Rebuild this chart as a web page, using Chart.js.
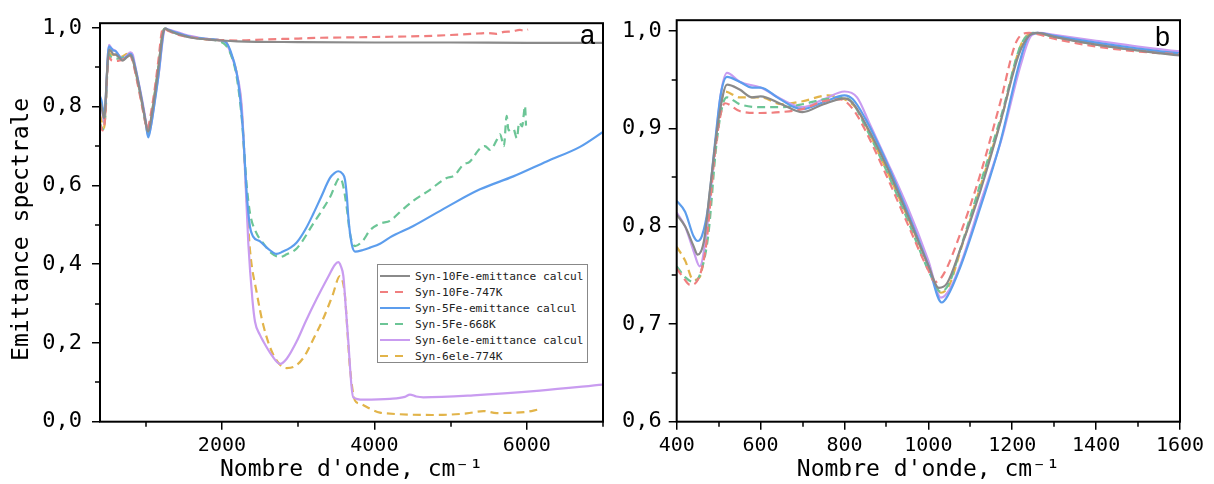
<!DOCTYPE html>
<html>
<head>
<meta charset="utf-8">
<script src="https://cdn.jsdelivr.net/npm/chart.js@4.4.1/dist/chart.umd.min.js"></script>
<style>
  html, body { margin: 0; padding: 0; background: #fff; }
  #wrap { position: relative; width: 1214px; height: 484px; overflow: hidden; }
  .panel { position: absolute; top: 0; height: 484px; }
  #boxA { left: 0; width: 610px; }
  #boxB { left: 610px; width: 604px; }
  .tag { position: absolute; font: 27px 'Liberation Sans', Arial, sans-serif; line-height: 27px; color: #000; }
  #legend {
    position: absolute; left: 377px; top: 264px; width: 211px; height: 99px;
    border: 1px solid #888; background: #fff; box-sizing: border-box;
    font: 11.2px 'DejaVu Sans Mono', monospace; color: #222; padding-top: 3px;
    white-space: nowrap;
  }
  #legend .row { display: flex; align-items: center; height: 16px; }
  #legend svg { margin-left: 2px; margin-right: 5px; flex: none; }
</style>
</head>
<body>
<div id="wrap">
  <div class="panel" id="boxA"><canvas id="chartA"></canvas></div>
  <div class="panel" id="boxB"><canvas id="chartB"></canvas></div>
  <div id="legend"></div>
  <div class="tag" style="left:580px; top:22px;">a</div>
  <div class="tag" style="left:1155px; top:24px;">b</div>
</div>
<script>
// Series names and styles
const seriesNames = [
  'Syn-10Fe-emittance calcul',
  'Syn-10Fe-747K',
  'Syn-5Fe-emittance calcul',
  'Syn-5Fe-668K',
  'Syn-6ele-emittance calcul',
  'Syn-6ele-774K'
];
const seriesColors = ['#8a8a8a', '#f07f7f', '#5c9ded', '#6cc596', '#c99cf0', '#e2b44a'];
const seriesDashed = [false, true, false, true, false, true];

// Data: [wavenumber cm-1, emittance]
const syn10FeCalc = [
  [400,0.812],[420,0.80],[440,0.78],[450,0.771],[465,0.785],[480,0.84],[500,0.91],[520,0.945],
  [550,0.94],[580,0.932],[600,0.933],[650,0.925],[700,0.917],[750,0.925],[800,0.931],[820,0.926],
  [850,0.905],[900,0.862],[950,0.812],[1000,0.76],[1025,0.737],[1045,0.742],[1075,0.775],[1123,0.835],
  [1171,0.905],[1215,0.975],[1240,0.995],[1260,0.998],[1300,0.994],[1400,0.986],[1500,0.98],[1600,0.975],
  [1800,0.971],[2000,0.968],[2200,0.966],[3000,0.964],[4000,0.963],[5000,0.963],[6000,0.962],[7000,0.962]
];
const syn10Fe747K = [
  [400,0.757],[415,0.748],[432,0.74],[450,0.745],[470,0.78],[490,0.87],[505,0.915],[515,0.926],
  [550,0.918],[600,0.916],[650,0.917],[700,0.92],[750,0.928],[790,0.93],[820,0.92],[850,0.898],
  [900,0.852],[950,0.803],[1000,0.755],[1016,0.743],[1035,0.75],[1075,0.791],[1123,0.852],[1171,0.926],
  [1211,0.99],[1240,0.998],[1300,0.992],[1400,0.984],[1500,0.979],[1600,0.976],[1800,0.971],[2000,0.969],
  [2200,0.968],[2600,0.971],[3000,0.973],[3300,0.975],[3700,0.976],[4000,0.977],[4600,0.979],[5000,0.982],
  [5300,0.985],[5480,0.987],[5600,0.985],[5700,0.99],[5800,0.991],[5910,0.995],[5960,0.993],[6017,0.996]
];
const syn5FeCalc = [
  [400,0.826],[420,0.815],[440,0.79],[450,0.785],[460,0.79],[475,0.82],[490,0.88],[505,0.935],
  [520,0.953],[550,0.948],[580,0.942],[600,0.942],[640,0.932],[680,0.922],[700,0.92],[750,0.927],
  [800,0.934],[820,0.93],[850,0.91],[900,0.866],[950,0.815],[1000,0.76],[1032,0.722],[1045,0.728],
  [1075,0.757],[1123,0.818],[1171,0.885],[1219,0.97],[1240,0.995],[1260,0.998],[1300,0.995],[1400,0.988],
  [1500,0.982],[1600,0.977],[1800,0.972],[2000,0.968],[2060,0.962],[2106,0.945],[2194,0.885],[2240,0.82],
  [2280,0.727],[2325,0.58],[2368,0.495],[2410,0.47],[2500,0.458],[2600,0.44],[2718,0.426],[2800,0.432],
  [2900,0.442],[2981,0.455],[3100,0.49],[3199,0.528],[3300,0.57],[3418,0.619],[3480,0.632],[3527,0.636],
  [3580,0.63],[3614,0.615],[3640,0.57],[3658,0.52],[3701,0.453],[3746,0.432],[3850,0.436],[3942,0.442],
  [4074,0.452],[4205,0.468],[4511,0.497],[4949,0.545],[5386,0.59],[5823,0.623],[6261,0.661],[6698,0.698],
  [7000,0.736]
];
const syn5Fe668K = [
  [400,0.759],[420,0.748],[440,0.743],[455,0.75],[475,0.79],[495,0.885],[510,0.925],[520,0.932],
  [550,0.925],[600,0.922],[650,0.922],[700,0.925],[750,0.93],[800,0.932],[820,0.926],[850,0.902],
  [900,0.857],[950,0.807],[1000,0.755],[1030,0.733],[1050,0.742],[1080,0.782],[1125,0.845],[1175,0.915],
  [1220,0.985],[1250,0.998],[1300,0.994],[1400,0.986],[1500,0.98],[1600,0.976],[1800,0.971],[1950,0.967],
  [2050,0.956],[2106,0.938],[2194,0.875],[2260,0.77],[2325,0.6],[2368,0.53],[2450,0.48],[2543,0.453],
  [2650,0.428],[2762,0.418],[2850,0.425],[2981,0.44],[3199,0.503],[3418,0.57],[3549,0.619],[3590,0.6],
  [3640,0.54],[3680,0.478],[3746,0.446],[3850,0.46],[3942,0.486],[4074,0.503],[4205,0.51],[4350,0.535],
  [4511,0.561],[4700,0.585],[4949,0.619],[5050,0.625],[5167,0.653],[5250,0.66],[5386,0.694],[5450,0.70],
  [5520,0.69],[5605,0.715],[5650,0.73],[5700,0.70],[5736,0.777],[5760,0.74],[5823,0.744],[5870,0.72],
  [5900,0.76],[5940,0.75],[5960,0.78],[5976,0.802],[5990,0.752]
];
const syn6eleCalc = [
  [400,0.814],[420,0.80],[440,0.775],[455,0.759],[470,0.79],[490,0.875],[505,0.935],[520,0.957],
  [550,0.948],[600,0.942],[650,0.93],[700,0.922],[750,0.93],[800,0.938],[830,0.932],[860,0.905],
  [900,0.868],[950,0.82],[1000,0.765],[1030,0.727],[1050,0.735],[1080,0.765],[1125,0.825],[1175,0.89],
  [1220,0.965],[1245,0.995],[1265,0.998],[1300,0.996],[1400,0.99],[1500,0.984],[1600,0.979],[1800,0.972],
  [2000,0.968],[2060,0.962],[2106,0.94],[2194,0.885],[2260,0.80],[2300,0.65],[2346,0.453],[2400,0.31],
  [2434,0.254],[2500,0.22],[2543,0.204],[2650,0.17],[2762,0.147],[2850,0.16],[2981,0.204],[3100,0.255],
  [3243,0.312],[3400,0.37],[3480,0.398],[3527,0.405],[3560,0.395],[3593,0.37],[3625,0.29],[3658,0.204],
  [3700,0.09],[3723,0.062],[3855,0.056],[4205,0.058],[4400,0.063],[4467,0.069],[4550,0.064],[4642,0.062],
  [5298,0.067],[6173,0.079],[7000,0.094]
];
const syn6ele774K = [
  [400,0.779],[420,0.765],[440,0.745],[455,0.748],[470,0.785],[490,0.875],[505,0.925],[515,0.938],
  [550,0.932],[600,0.932],[650,0.925],[700,0.928],[760,0.934],[800,0.93],[830,0.92],[860,0.895],
  [900,0.858],[950,0.81],[1000,0.76],[1030,0.732],[1050,0.74],[1080,0.78],[1125,0.842],[1175,0.912],
  [1220,0.985],[1250,0.998],[1300,0.994],[1400,0.987],[1500,0.981],[1600,0.977],[1800,0.971],[2000,0.968],
  [2060,0.962],[2106,0.94],[2194,0.885],[2260,0.79],[2320,0.58],[2368,0.436],[2456,0.328],[2543,0.245],
  [2674,0.17],[2850,0.136],[2950,0.14],[3068,0.162],[3200,0.21],[3330,0.262],[3450,0.32],[3549,0.37],
  [3580,0.36],[3614,0.32],[3650,0.22],[3680,0.137],[3746,0.054],[3811,0.046],[3942,0.033],[4074,0.023],
  [4162,0.021],[4773,0.017],[5211,0.021],[5430,0.027],[5605,0.022],[5998,0.025],[6151,0.031]
];
const allSeries = [syn10FeCalc, syn10Fe747K, syn5FeCalc, syn5Fe668K, syn6eleCalc, syn6ele774K];

// Ticks
const xTicksA = [2000, 4000, 6000];
const xMinorA = [1000, 3000, 5000, 7000];
const yTicksA = [0, 0.2, 0.4, 0.6, 0.8, 1.0];
const yMinorA = [0.1, 0.3, 0.5, 0.7, 0.9];
const xTicksB = [400, 600, 800, 1000, 1200, 1400, 1600];
const xMinorB = [500, 700, 900, 1100, 1300, 1500];
const yTicksB = [0.6, 0.7, 0.8, 0.9, 1.0];
const yMinorB = [0.65, 0.75, 0.85, 0.95];

Chart.defaults.font.family = "'DejaVu Sans Mono', monospace";
Chart.defaults.color = '#000';

// Minor ticks + box frame around the plot area
const frameAndMinor = {
  id: 'frameAndMinor',
  afterDraw(chart, args, opts) {
    const { ctx, chartArea: a, scales: { x, y } } = chart;
    ctx.save();
    ctx.strokeStyle = '#000';
    ctx.lineWidth = 1.5;
    ctx.beginPath();
    opts.x.forEach(v => {
      const px = Math.round(x.getPixelForValue(v));
      ctx.moveTo(px, a.bottom);
      ctx.lineTo(px, a.bottom + 5);
    });
    opts.y.forEach(v => {
      const py = Math.round(y.getPixelForValue(v));
      ctx.moveTo(a.left, py);
      ctx.lineTo(a.left - 5, py);
    });
    ctx.stroke();
    ctx.lineWidth = 2;
    ctx.strokeRect(a.left, a.top, a.right - a.left, a.bottom - a.top);
    ctx.restore();
  }
};

function makeDatasets() {
  return allSeries.map((pts, i) => ({
    label: seriesNames[i],
    data: pts,
    borderColor: seriesColors[i],
    borderWidth: 2.2,
    borderDash: seriesDashed[i] ? [8, 5] : [],
    pointRadius: 0,
    cubicInterpolationMode: 'monotone',
    fill: false
  }));
}

function makePanel(id, p) {
  const comma = v => v.toFixed(1).replace('.', ',');
  new Chart(document.getElementById(id), {
    type: 'line',
    data: { datasets: makeDatasets() },
    options: {
      responsive: true,
      maintainAspectRatio: false,
      animation: false,
      layout: { padding: { top: 16, right: p.padRight, bottom: 0, left: 0 } },
      plugins: {
        legend: { display: false },
        tooltip: { enabled: false },
        frameAndMinor: { x: p.xMinor, y: p.yMinor }
      },
      scales: {
        x: {
          type: 'linear',
          min: p.xMin,
          max: p.xMax,
          afterFit: s => { s.height = 62.3; },
          afterBuildTicks: s => { s.ticks = p.xTicks.map(v => ({ value: v })); },
          ticks: { font: { size: 20 }, padding: 4, maxRotation: 0, autoSkip: false, callback: v => String(v) },
          grid: { drawOnChartArea: false, drawTicks: true, tickLength: 8, color: '#000', lineWidth: 1.5 },
          border: { display: false },
          title: {
            display: true, text: "Nombre d'onde, cm⁻¹", font: { size: 23 }, padding: { top: 0, bottom: 0 }
          }
        },
        y: {
          type: 'linear',
          min: p.yMin,
          max: p.yMax,
          afterFit: s => { s.width = p.yWidth; },
          afterBuildTicks: s => { s.ticks = p.yTicks.map(v => ({ value: v })); },
          ticks: { font: { size: 22 }, padding: p.yPad, callback: v => comma(v) },
          grid: { drawOnChartArea: false, drawTicks: true, tickLength: 8, color: '#000', lineWidth: 1.5 },
          border: { display: false },
          title: p.yTitle ? {
            display: true, text: 'Emittance spectrale ', font: { size: 23 }, padding: { top: 8, bottom: 0 }
          } : { display: false }
        }
      }
    },
    plugins: [frameAndMinor]
  });
}

makePanel('chartA', {
  xMin: 400, xMax: 7000, yMin: 0, yMax: 1.012,
  xTicks: xTicksA, xMinor: xMinorA, yTicks: yTicksA, yMinor: yMinorA,
  padRight: 7, yWidth: 100, yPad: 10, yTitle: true
});
makePanel('chartB', {
  xMin: 400, xMax: 1600, yMin: 0.6, yMax: 1.011,
  xTicks: xTicksB, xMinor: xMinorB, yTicks: yTicksB, yMinor: yMinorB,
  padRight: 34, yWidth: 66.7, yPad: 7, yTitle: false
});

// Legend box inside panel a
const legend = document.getElementById('legend');
seriesNames.forEach((name, i) => {
  const row = document.createElement('div');
  row.className = 'row';
  const dash = seriesDashed[i] ? ' stroke-dasharray="8 7"' : '';
  row.innerHTML = '<svg width="30" height="4"><line x1="0" y1="2" x2="30" y2="2" stroke="' +
    seriesColors[i] + '" stroke-width="2"' + dash + '/></svg><span>' + name + '</span>';
  legend.appendChild(row);
});
</script>
</body>
</html>
